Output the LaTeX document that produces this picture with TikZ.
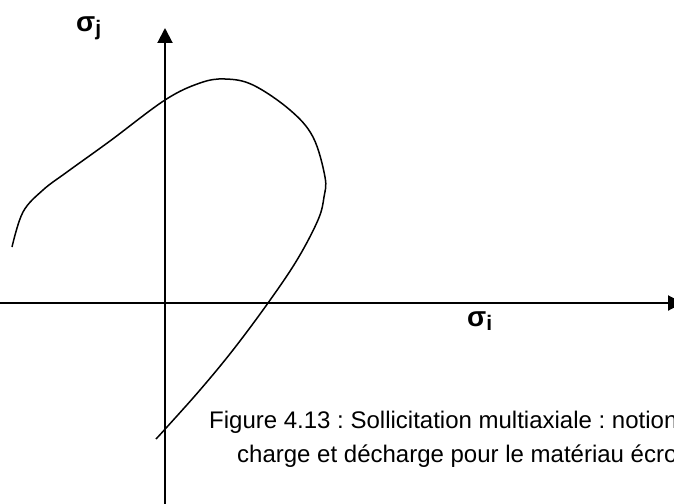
\documentclass[tikz,border=0pt]{standalone}
\usepackage{fontspec}
\setmainfont{Liberation Sans}
\usepackage{tikz}
\usetikzlibrary{arrows.meta}
\frenchspacing

\begin{document}
\begin{tikzpicture}[
  x=1pt, y=-1pt,
  axis/.style={line width=2pt, -{Triangle[length=15pt, width=15pt]}},
  curve/.style={line width=1.5pt},
  sig/.style={anchor=base west, inner sep=0pt, font=\fontsize{28}{28}\bfseries},
  caption/.style={anchor=base west, inner sep=0pt, font=\fontsize{24}{30}\selectfont},
]
\clip (0,0) rectangle (674,503);
\fill[white] (0,0) rectangle (674,503);

% axes
\coordinate (ibot) at (0,303);
\coordinate (itop) at (683,303);
\coordinate (jbot) at (165,510);
\coordinate (jtop) at (165,28);
\draw[axis] (ibot) -- (itop);
\draw[axis] (jbot) -- (jtop);

\node[sig] (sj) at (76,32) {σ\raisebox{-4pt}{\fontsize{21}{21}\selectfont j}};
\node[sig] (si) at (467,326) {σ\raisebox{-4pt}{\fontsize{21}{21}\selectfont i}};

% surface de charge
\draw[curve] plot[smooth, tension=0.6] coordinates {
  (12,247) (23,212) (43,190) (67,172) (110,141) (165,100) (200,83)
  (225,79) (253,85) (290,110) (313,137) (325,177) (324,197) (318,220)
  (297,260) (268,303) (233,350) (200,390) (167,427) (156,439)};

\node[caption] (cap1) at (209,428) {Figure 4.13 : Sollicitation multiaxiale : notion};
\node[caption] (cap2) at (237,462) {charge et décharge pour le matériau écro};
\end{tikzpicture}
\end{document}
